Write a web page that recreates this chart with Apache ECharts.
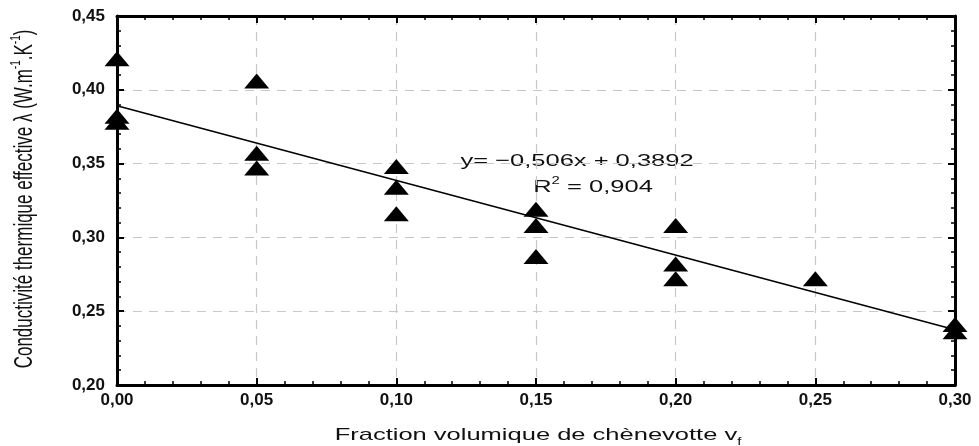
<!DOCTYPE html>
<html lang="fr">
  <head>
    <meta charset="UTF-8" />
    <title>Conductivité</title>
    <script src="https://cdn.jsdelivr.net/npm/echarts@6/dist/echarts.min.js"></script>
    <style>
      body { margin: 0; background: #fff; }
      #main { width: 979px; height: 446px; }
    </style>
  </head>
  <body>
    <div id="main"></div>
    <script>
      // measured points (fraction volumique, conductivité)
      const fractions = [0, 0, 0, 0.05, 0.05, 0.05, 0.10, 0.10, 0.10, 0.15, 0.15, 0.15, 0.20, 0.20, 0.20, 0.25, 0.30, 0.30];
      const conductivity = [0.421, 0.382, 0.378, 0.406, 0.357, 0.347, 0.348, 0.334, 0.316, 0.319, 0.308, 0.287, 0.308, 0.282, 0.272, 0.272, 0.241, 0.236];
      // fitted line y = -0.506x + 0.3892, endpoints
      const fitX = [0, 0.30];
      const fitY = [0.3892, 0.2374];
      const xTicks = [0, 0.05, 0.10, 0.15, 0.20, 0.25, 0.30];
      const yTicks = [0.20, 0.25, 0.30, 0.35, 0.40, 0.45];

      const fmt = v => v.toFixed(2).replace('.', ',');
      const points = fractions.map((x, i) => [x, conductivity[i]]);
      const fitLine = fitX.map((x, i) => [x, fitY[i]]);

      const chart = echarts.init(document.getElementById('main'));
      const FONT = 'Liberation Sans, Arial, sans-serif';
      const tickFont = { color: '#111', fontSize: 17, fontWeight: 'bold', fontFamily: FONT };
      const dashed = { show: true, lineStyle: { color: '#c8c8c8', type: [9, 7], width: 1.2 } };
      // the original picture is stretched ~1.5x horizontally, so the texts are too
      const stretch = 1.5;

      const baseAxis = (ticks) => ({
        type: 'value',
        min: ticks[0],
        max: ticks[ticks.length - 1],
        interval: 0.05,
        axisLine: { show: true, onZero: false, lineStyle: { color: '#000', width: 3 } },
        axisTick: { show: true, inside: true, length: 7, lineStyle: { color: '#000', width: 2 } },
        minorTick: { show: true, splitNumber: 5, length: 4, lineStyle: { color: '#000', width: 1.5 } },
      });

      const option = {
        animation: false,
        backgroundColor: '#fff',
        grid: { left: 117, right: 24, top: 16, bottom: 61, outerBoundsMode: 'none' },
        xAxis: [
          Object.assign(baseAxis(xTicks), {
            position: 'bottom',
            axisLabel: Object.assign({ formatter: fmt, margin: 7 }, tickFont),
            splitLine: dashed,
          }),
          Object.assign(baseAxis(xTicks), {
            position: 'top',
            axisLabel: { show: false },
            splitLine: { show: false },
          }),
        ],
        yAxis: [
          Object.assign(baseAxis(yTicks), {
            position: 'left',
            axisLabel: Object.assign({ formatter: fmt, margin: 12 }, tickFont),
            splitLine: dashed,
          }),
          Object.assign(baseAxis(yTicks), {
            position: 'right',
            axisLabel: { show: false },
            splitLine: { show: false },
          }),
        ],
        graphic: [
          {
            type: 'text',
            x: 25,
            y: 199,
            rotation: Math.PI / 2,
            scaleY: stretch,
            style: {
              text: '{a|Conductivité thermique effective λ (W.m}{s|-1}{a|.K}{s|-1}{a|)}',
              align: 'center',
              verticalAlign: 'middle',
              rich: {
                a: { fontSize: 17, fill: '#111', fontFamily: FONT, lineHeight: 22 },
                s: { fontSize: 10, fill: '#111', fontFamily: FONT, verticalAlign: 'top', lineHeight: 22 },
              },
            },
          },
          {
            type: 'text',
            x: 538,
            y: 435,
            scaleX: stretch,
            style: {
              text: '{a|Fraction volumique de chènevotte v}{s|f}',
              align: 'center',
              verticalAlign: 'middle',
              rich: {
                a: { fontSize: 17, fill: '#111', fontFamily: FONT, lineHeight: 22 },
                s: { fontSize: 10, fill: '#111', fontFamily: FONT, verticalAlign: 'bottom', lineHeight: 24 },
              },
            },
          },
          {
            type: 'text',
            x: 577,
            y: 161,
            scaleX: stretch,
            style: {
              text: 'y= \u22120,506x + 0,3892',
              align: 'center',
              verticalAlign: 'middle',
              fontSize: 17,
              fill: '#111',
              fontFamily: FONT,
            },
          },
          {
            type: 'text',
            x: 593,
            y: 187,
            scaleX: stretch,
            style: {
              text: '{a|R}{s|2}{a| = 0,904}',
              align: 'center',
              verticalAlign: 'middle',
              rich: {
                a: { fontSize: 17, fill: '#111', fontFamily: FONT, lineHeight: 22 },
                s: { fontSize: 10, fill: '#111', fontFamily: FONT, verticalAlign: 'top', lineHeight: 22 },
              },
            },
          },
        ],
        series: [
          {
            type: 'line',
            data: fitLine,
            symbol: 'none',
            lineStyle: { color: '#000', width: 1.6 },
            z: 3,
          },
          {
            type: 'scatter',
            data: points,
            symbol: 'triangle',
            symbolSize: [25, 15],
            itemStyle: { color: '#000', opacity: 1 },
            clip: false,
            z: 4,
          },
        ],
      };
      chart.setOption(option);
    </script>
  </body>
</html>
